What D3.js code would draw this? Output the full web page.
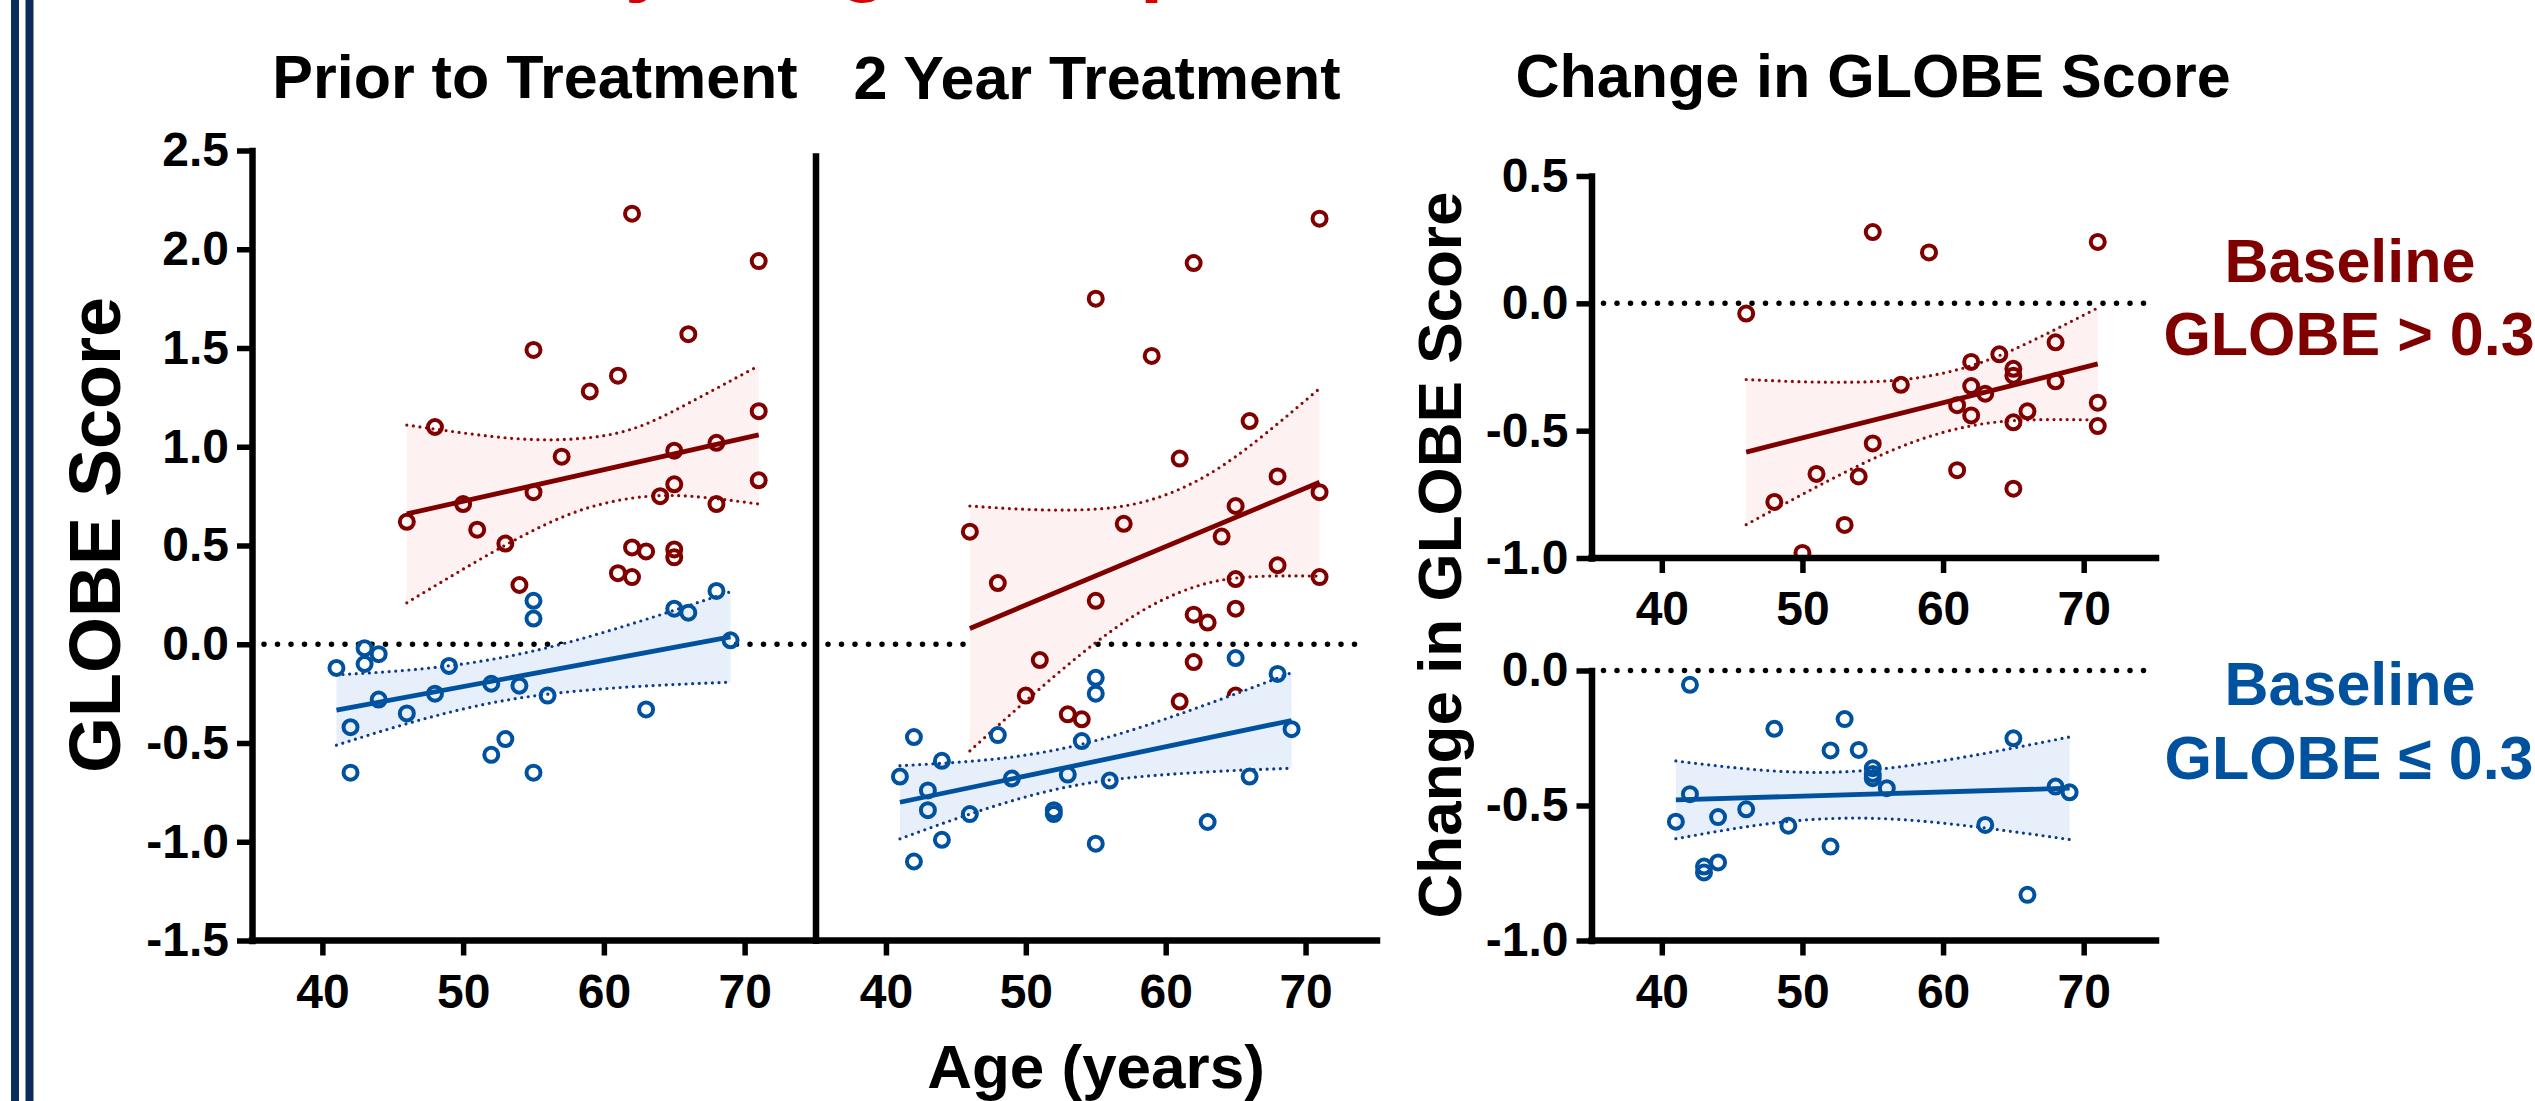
<!DOCTYPE html>
<html>
<head>
<meta charset="utf-8">
<script src="https://cdn.jsdelivr.net/npm/d3@7"></script>
<style>
  body { margin: 0; background: #fff; }
  svg { display: block; }
  text { font-family: "Liberation Sans", Arial, "DejaVu Sans", sans-serif; font-weight: bold; }
</style>
</head>
<body>
<svg id="chart" width="2535" height="1101"></svg>
<script>
// ---------- tick values ----------
const ageTicks = [40, 50, 60, 70];
const scoreTicks = [-1.5, -1.0, -0.5, 0.0, 0.5, 1.0, 1.5, 2.0, 2.5];
const changeHighTicks = [-1.0, -0.5, 0.0, 0.5];
const changeLowTicks = [-1.0, -0.5, 0.0];

// ---------- patients with baseline GLOBE > 0.3 ----------
const highAges   = [46, 48, 50, 51, 53, 54, 55, 55, 57, 59, 61, 61, 62, 62, 62, 63, 64, 65, 65, 65, 65, 66, 68, 68, 71, 71, 71];
const priorHigh  = [0.62, 1.10, 0.71, 0.58, 0.51, 0.30, 1.49, 0.77, 0.95, 1.28, 1.36, 0.36, 2.18, 0.49, 0.34, 0.47, 0.75, 0.98, 0.81, 0.48, 0.44, 1.57, 1.02, 0.71, 1.94, 1.18, 0.83];
const yr2High    = [0.57, 0.31, -0.26, -0.08, -0.355, -0.38, 1.75, 0.22, 0.61, 1.46, 0.94, -0.29, 1.93, 0.15, -0.09, 0.11, 0.545, 0.70, 0.33, 0.18, -0.26, 1.13, 0.85, 0.40, 2.155, 0.77, 0.34];
const changeHigh = [-0.04, -0.78, -0.98, -0.67, -0.87, -0.68, 0.28, -0.55, -0.32, 0.20, -0.40, -0.655, -0.23, -0.325, -0.44, -0.355, -0.20, -0.257, -0.284, -0.467, -0.728, -0.424, -0.153, -0.306, 0.241, -0.39, -0.482];

// ---------- patients with baseline GLOBE <= 0.3 ----------
const lowAges   = [41, 42, 42, 43, 43, 44, 44, 46, 48, 49, 52, 52, 53, 54, 55, 55, 55, 56, 63, 65, 66, 68, 69];
const priorLow  = [-0.12, -0.42, -0.65, -0.02, -0.10, -0.05, -0.28, -0.35, -0.25, -0.11, -0.20, -0.56, -0.48, -0.21, 0.22, 0.13, -0.65, -0.26, -0.33, 0.18, 0.16, 0.27, 0.02];
const yr2Low    = [-0.67, -0.47, -1.10, -0.74, -0.84, -0.59, -0.99, -0.86, -0.46, -0.68, -0.84, -0.86, -0.66, -0.49, -0.17, -0.25, -1.01, -0.69, -0.90, -0.07, -0.67, -0.15, -0.43];
const changeLow = [-0.56, -0.053, -0.458, -0.726, -0.748, -0.543, -0.711, -0.514, -0.216, -0.575, -0.296, -0.652, -0.18, -0.294, -0.362, -0.383, -0.399, -0.436, -0.572, -0.251, -0.831, -0.43, -0.451];

// ---------- linear fits with 95% confidence bands ----------
const highBandAge     = [46, 50, 54, 58, 62, 66, 71];
const priorHighFit    = [0.66, 1.06];
const priorHighUpper  = [1.11, 1.07, 1.04, 1.04, 1.09, 1.22, 1.41];
const priorHighLower  = [0.21, 0.38, 0.54, 0.67, 0.74, 0.75, 0.71];
const yr2HighFit      = [0.08, 0.82];
const yr2HighUpper    = [0.70, 0.683, 0.681, 0.714, 0.819, 1.003, 1.295];
const yr2HighLower    = [-0.54, -0.287, -0.047, 0.156, 0.289, 0.341, 0.345];
const changeHighFit   = [-0.584, -0.238];
const changeHighUpper = [-0.299, -0.308, -0.309, -0.294, -0.245, -0.156, -0.018];
const changeHighLower = [-0.869, -0.750, -0.637, -0.542, -0.481, -0.458, -0.458];

const lowBandAge     = [41, 45, 49, 53, 57, 61, 65, 69];
const priorLowFit    = [-0.333, 0.037];
const priorLowUpper  = [-0.155, -0.137, -0.109, -0.064, 0.001, 0.082, 0.172, 0.266];
const priorLowLower  = [-0.511, -0.423, -0.345, -0.284, -0.245, -0.22, -0.204, -0.192];
const yr2LowFit      = [-0.80, -0.386];
const yr2LowUpper    = [-0.615, -0.598, -0.571, -0.522, -0.447, -0.353, -0.251, -0.144];
const yr2LowLower    = [-0.985, -0.884, -0.793, -0.722, -0.679, -0.655, -0.639, -0.628];
const changeLowFit   = [-0.479, -0.436];
const changeLowUpper = [-0.335, -0.359, -0.375, -0.375, -0.356, -0.325, -0.287, -0.246];
const changeLowLower = [-0.623, -0.587, -0.559, -0.547, -0.552, -0.571, -0.597, -0.626];

// ---------- styling ----------
const RED = "#800000", RED_DOT = "#8a0a0a", RED_FILL = "#fdf1f1";
const BLUE = "#00529f", BLUE_DOT = "#0d3a8c", BLUE_FILL = "#e7effb";
const NAVY = "#0a2d5e";
const FONT = "'Liberation Sans', Arial, sans-serif";

const svg = d3.select("#chart");

// double rule down the left edge
svg.append("rect").attr("x", 11).attr("y", 0).attr("width", 8).attr("height", 1101).attr("fill", NAVY);
svg.append("rect").attr("x", 25.5).attr("y", 0).attr("width", 8).attr("height", 1101).attr("fill", NAVY);

// slide headline, sitting above the top edge so only its descenders show
svg.append("text").attr("x", 346).attr("y", -15).attr("font-size", 85).attr("fill", "#d80000")
  .text("Efficacy is age-independent");

function makeGroup(ages, scores, bandAge, upper, lower, fit, color, dotColor, fill) {
  return {
    points: ages.map((a, i) => ({ a, v: scores[i] })),
    band: bandAge.map((a, i) => ({ a, up: upper[i], lo: lower[i] })),
    fit: [{ a: bandAge[0], v: fit[0] }, { a: bandAge[bandAge.length - 1], v: fit[1] }],
    color, dotColor, fill
  };
}

const fmt = d => d.toFixed(1);

function styleTicks(sel) {
  sel.selectAll(".tick line").attr("stroke-width", 5.5);
  sel.selectAll(".tick text").attr("font-size", 48).attr("fill", "#000")
    .style("font-family", FONT).style("font-weight", "bold");
}

function drawPanel(cfg) {
  const x = d3.scaleLinear().domain([35, 75]).range(cfg.xRange);
  const y = d3.scaleLinear().domain(cfg.yDomain).range(cfg.yRange);
  const g = svg.append("g");

  // reference line at zero
  g.append("line")
    .attr("x1", cfg.xRange[0] + 12).attr("x2", cfg.xRange[1] - 8)
    .attr("y1", y(0)).attr("y2", y(0))
    .attr("stroke", "#000").attr("stroke-width", 5.5)
    .attr("stroke-linecap", "round").attr("stroke-dasharray", "0 13.5");

  cfg.groups.forEach(grp => {
    const area = d3.area().x(d => x(d.a)).y0(d => y(d.lo)).y1(d => y(d.up)).curve(d3.curveNatural);
    g.append("path").datum(grp.band).attr("d", area).attr("fill", grp.fill);

    ["up", "lo"].forEach(k => {
      const ln = d3.line().x(d => x(d.a)).y(d => y(d[k])).curve(d3.curveNatural);
      g.append("path").datum(grp.band).attr("d", ln)
        .attr("fill", "none").attr("stroke", grp.dotColor).attr("stroke-width", 3.2)
        .attr("stroke-linecap", "round").attr("stroke-dasharray", "0 6.6");
    });

    const fitLine = d3.line().x(d => x(d.a)).y(d => y(d.v));
    g.append("path").datum(grp.fit).attr("d", fitLine)
      .attr("fill", "none").attr("stroke", grp.color).attr("stroke-width", 4.8);

    g.selectAll(null).data(grp.points).join("circle")
      .attr("cx", d => x(d.a)).attr("cy", d => y(d.v)).attr("r", 7)
      .attr("fill", "none").attr("stroke", grp.color).attr("stroke-width", 4);
  });

  // x axis
  const xAxis = d3.axisBottom(x).tickValues(ageTicks).tickSize(15).tickSizeOuter(0).tickPadding(18).tickFormat(d3.format("d"));
  const gx = svg.append("g").attr("transform", `translate(0,${y(cfg.yDomain[0])})`).call(xAxis);
  gx.select(".domain").attr("stroke-width", 6.5).attr("stroke-linecap", "square")
    .attr("d", `M${cfg.xRange[0]},0H${cfg.xAxisEnd}`);
  styleTicks(gx);

  // y axis
  const gy = svg.append("g").attr("transform", `translate(${cfg.xRange[0]},0)`);
  if (cfg.yTicks) {
    gy.call(d3.axisLeft(y).tickValues(cfg.yTicks).tickSize(15).tickSizeOuter(0).tickPadding(8).tickFormat(fmt));
    styleTicks(gy);
    gy.select(".domain").attr("stroke-width", 6.5).attr("stroke-linecap", "square");
  } else {
    gy.append("line").attr("x1", 0).attr("x2", 0)
      .attr("y1", y(cfg.yDomain[0])).attr("y2", y(cfg.yTop))
      .attr("stroke", "#000").attr("stroke-width", 6.5).attr("stroke-linecap", "square");
  }
}

const priorHighGrp  = makeGroup(highAges, priorHigh, highBandAge, priorHighUpper, priorHighLower, priorHighFit, RED, RED_DOT, RED_FILL);
const priorLowGrp   = makeGroup(lowAges, priorLow, lowBandAge, priorLowUpper, priorLowLower, priorLowFit, BLUE, BLUE_DOT, BLUE_FILL);
const yr2HighGrp    = makeGroup(highAges, yr2High, highBandAge, yr2HighUpper, yr2HighLower, yr2HighFit, RED, RED_DOT, RED_FILL);
const yr2LowGrp     = makeGroup(lowAges, yr2Low, lowBandAge, yr2LowUpper, yr2LowLower, yr2LowFit, BLUE, BLUE_DOT, BLUE_FILL);
const changeHighGrp = makeGroup(highAges, changeHigh, highBandAge, changeHighUpper, changeHighLower, changeHighFit, RED, RED_DOT, RED_FILL);
const changeLowGrp  = makeGroup(lowAges, changeLow, lowBandAge, changeLowUpper, changeLowLower, changeLowFit, BLUE, BLUE_DOT, BLUE_FILL);

drawPanel({ xRange: [252, 815], xAxisEnd: 816, yDomain: [-1.5, 2.5], yRange: [940.5, 150.5], yTicks: scoreTicks, groups: [priorHighGrp, priorLowGrp] });
drawPanel({ xRange: [816, 1375.5], xAxisEnd: 1377, yDomain: [-1.5, 2.5], yRange: [940.5, 150.5], yTicks: null, yTop: 2.47, groups: [yr2HighGrp, yr2LowGrp] });
drawPanel({ xRange: [1591.5, 2154], xAxisEnd: 2156, yDomain: [-1.0, 0.5], yRange: [558, 176], yTicks: changeHighTicks, groups: [changeHighGrp] });
drawPanel({ xRange: [1591.5, 2154], xAxisEnd: 2156, yDomain: [-1.0, 0.0], yRange: [940.5, 670.5], yTicks: changeLowTicks, groups: [changeLowGrp] });

// ---------- titles and labels ----------
function label(txt, x, y, size, color, rotate) {
  const t = svg.append("text").attr("text-anchor", "middle").attr("font-size", size).attr("fill", color || "#000").text(txt);
  if (rotate) t.attr("transform", `translate(${x},${y}) rotate(-90)`);
  else t.attr("x", x).attr("y", y);
  return t;
}
label("Prior to Treatment", 535, 98, 61);
label("2 Year Treatment", 1097, 99, 61);
label("Change in GLOBE Score", 1873, 97, 61);
label("Age (years)", 1096, 1088, 62);
label("GLOBE Score", 120, 535, 72, "#000", true);
label("Change in GLOBE Score", 1461, 555, 62, "#000", true);

label("Baseline", 2350, 282, 61, RED);
label("GLOBE > 0.3", 2349, 355, 61, RED);
label("Baseline", 2350, 705, 61, BLUE);
label("GLOBE \u2264 0.3", 2349, 779, 61, BLUE);
</script>
</body>
</html>
